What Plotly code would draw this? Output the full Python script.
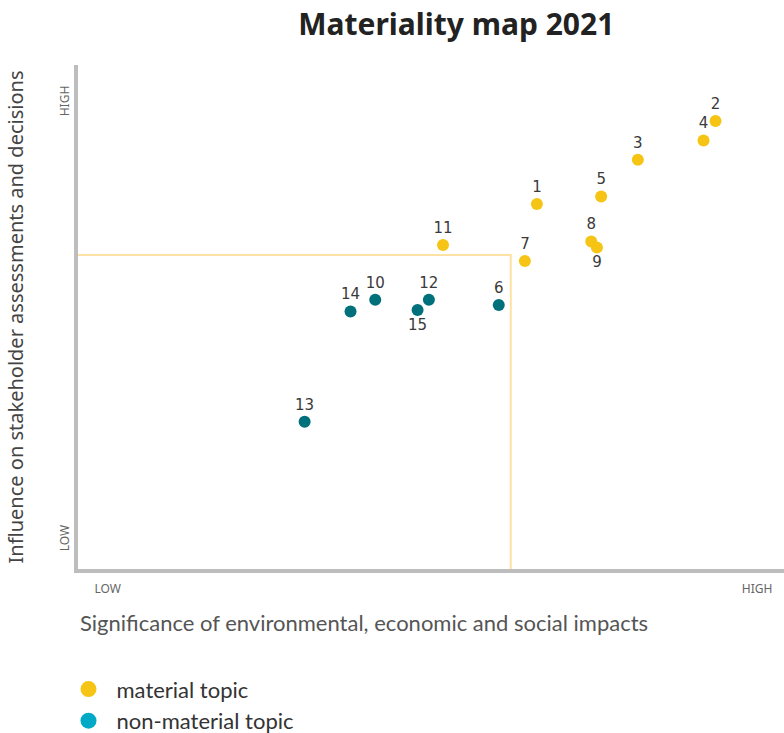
import plotly.graph_objects as go

# ---- data ----
topic_ids = ["1", "2", "3", "4", "5", "6", "7", "8", "9", "10", "11", "12", "13", "14", "15"]
significance = [6.50, 9.03, 7.93, 8.86, 7.41, 5.96, 6.33, 7.27, 7.35, 4.21, 5.17, 4.97, 3.21, 3.86, 4.81]
influence = [7.24, 8.89, 8.12, 8.50, 7.39, 5.24, 6.11, 6.50, 6.38, 5.34, 6.43, 5.34, 2.92, 5.11, 5.14]
is_material = [True, True, True, True, True, False, True, True, True, False, True, False, False, False, False]
label_below = ["9", "15"]

threshold_x = 6.13
threshold_y = 6.23

x_tick_vals = [0.42, 9.62]
y_tick_vals = [0.58, 9.25]
tick_text = ["LOW", "HIGH"]

MAT_COLOR = "#F6C414"
NONMAT_COLOR = "#00707A"
LEG_MAT = "#F6C414"
LEG_NONMAT = "#00A9C6"
LINE_COLOR = "#FDE2A4"

fig = go.Figure()

# threshold lines
fig.add_trace(go.Scatter(
    x=[0, threshold_x, threshold_x], y=[threshold_y, threshold_y, 0],
    mode="lines", line=dict(color=LINE_COLOR, width=2),
    showlegend=False, hoverinfo="skip"))

for flag, color in [(True, MAT_COLOR), (False, NONMAT_COLOR)]:
    xs = [x for x, m in zip(significance, is_material) if m == flag]
    ys = [y for y, m in zip(influence, is_material) if m == flag]
    ts = [t for t, m in zip(topic_ids, is_material) if m == flag]
    pos = ["bottom center" if t in label_below else "top center" for t in ts]
    fig.add_trace(go.Scatter(
        x=xs, y=ys, text=ts, mode="markers+text", textposition=pos,
        marker=dict(size=12, color=color),
        textfont=dict(family="DejaVu Sans", size=15, color="#3a3a3a"),
        showlegend=False, cliponaxis=False))

# legend entries
fig.add_trace(go.Scatter(x=[None], y=[None], mode="markers", name="material topic",
                         marker=dict(size=16, color=LEG_MAT)))
fig.add_trace(go.Scatter(x=[None], y=[None], mode="markers", name="non-material topic",
                         marker=dict(size=16, color=LEG_NONMAT)))

fig.add_annotation(
    text="Significance of environmental, economic and social impacts",
    xref="paper", yref="paper", x=0, xanchor="left", y=-0.107, yanchor="middle",
    showarrow=False, font=dict(family="Lato", size=22, color="#555555"))

fig.update_layout(
    width=784, height=733,
    margin=dict(l=78, r=0, t=65, b=164, autoexpand=False),
    paper_bgcolor="white", plot_bgcolor="white",
    title=dict(text="<b>Materiality map 2021</b>", x=0.582, xanchor="center", y=0.966, yanchor="middle",
               font=dict(family="Noto Sans", size=30, color="#222222")),
    xaxis=dict(range=[0, 10], showgrid=False, zeroline=False, showline=True, automargin=False,
               linecolor="#BDBDBD", linewidth=4, ticks="",
               tickvals=x_tick_vals, ticktext=tick_text,
               tickfont=dict(family="Noto Sans", size=12, color="#666666"),
               ticklabelstandoff=6),
    yaxis=dict(range=[0, 10], showgrid=False, zeroline=False, showline=True, automargin=False,
               linecolor="#BDBDBD", linewidth=4, ticks="",
               tickvals=y_tick_vals, ticktext=tick_text, tickangle=-90,
               tickfont=dict(family="Noto Sans", size=12, color="#666666"),
               ticklabelstandoff=0,
               title=dict(text="Influence on stakeholder assessments and decisions",
                          font=dict(family="Noto Sans", size=20, color="#444444"),
                          standoff=28)),
    legend=dict(x=-0.0248, xanchor="left", y=-0.197, yanchor="top", itemwidth=46,
                font=dict(family="Lato", size=22, color="#333333"),
                tracegroupgap=0, itemsizing="trace"),
)

fig.write_html("out.html", config={"displayModeBar": False},
               post_script="document.body.style.margin='0';")
